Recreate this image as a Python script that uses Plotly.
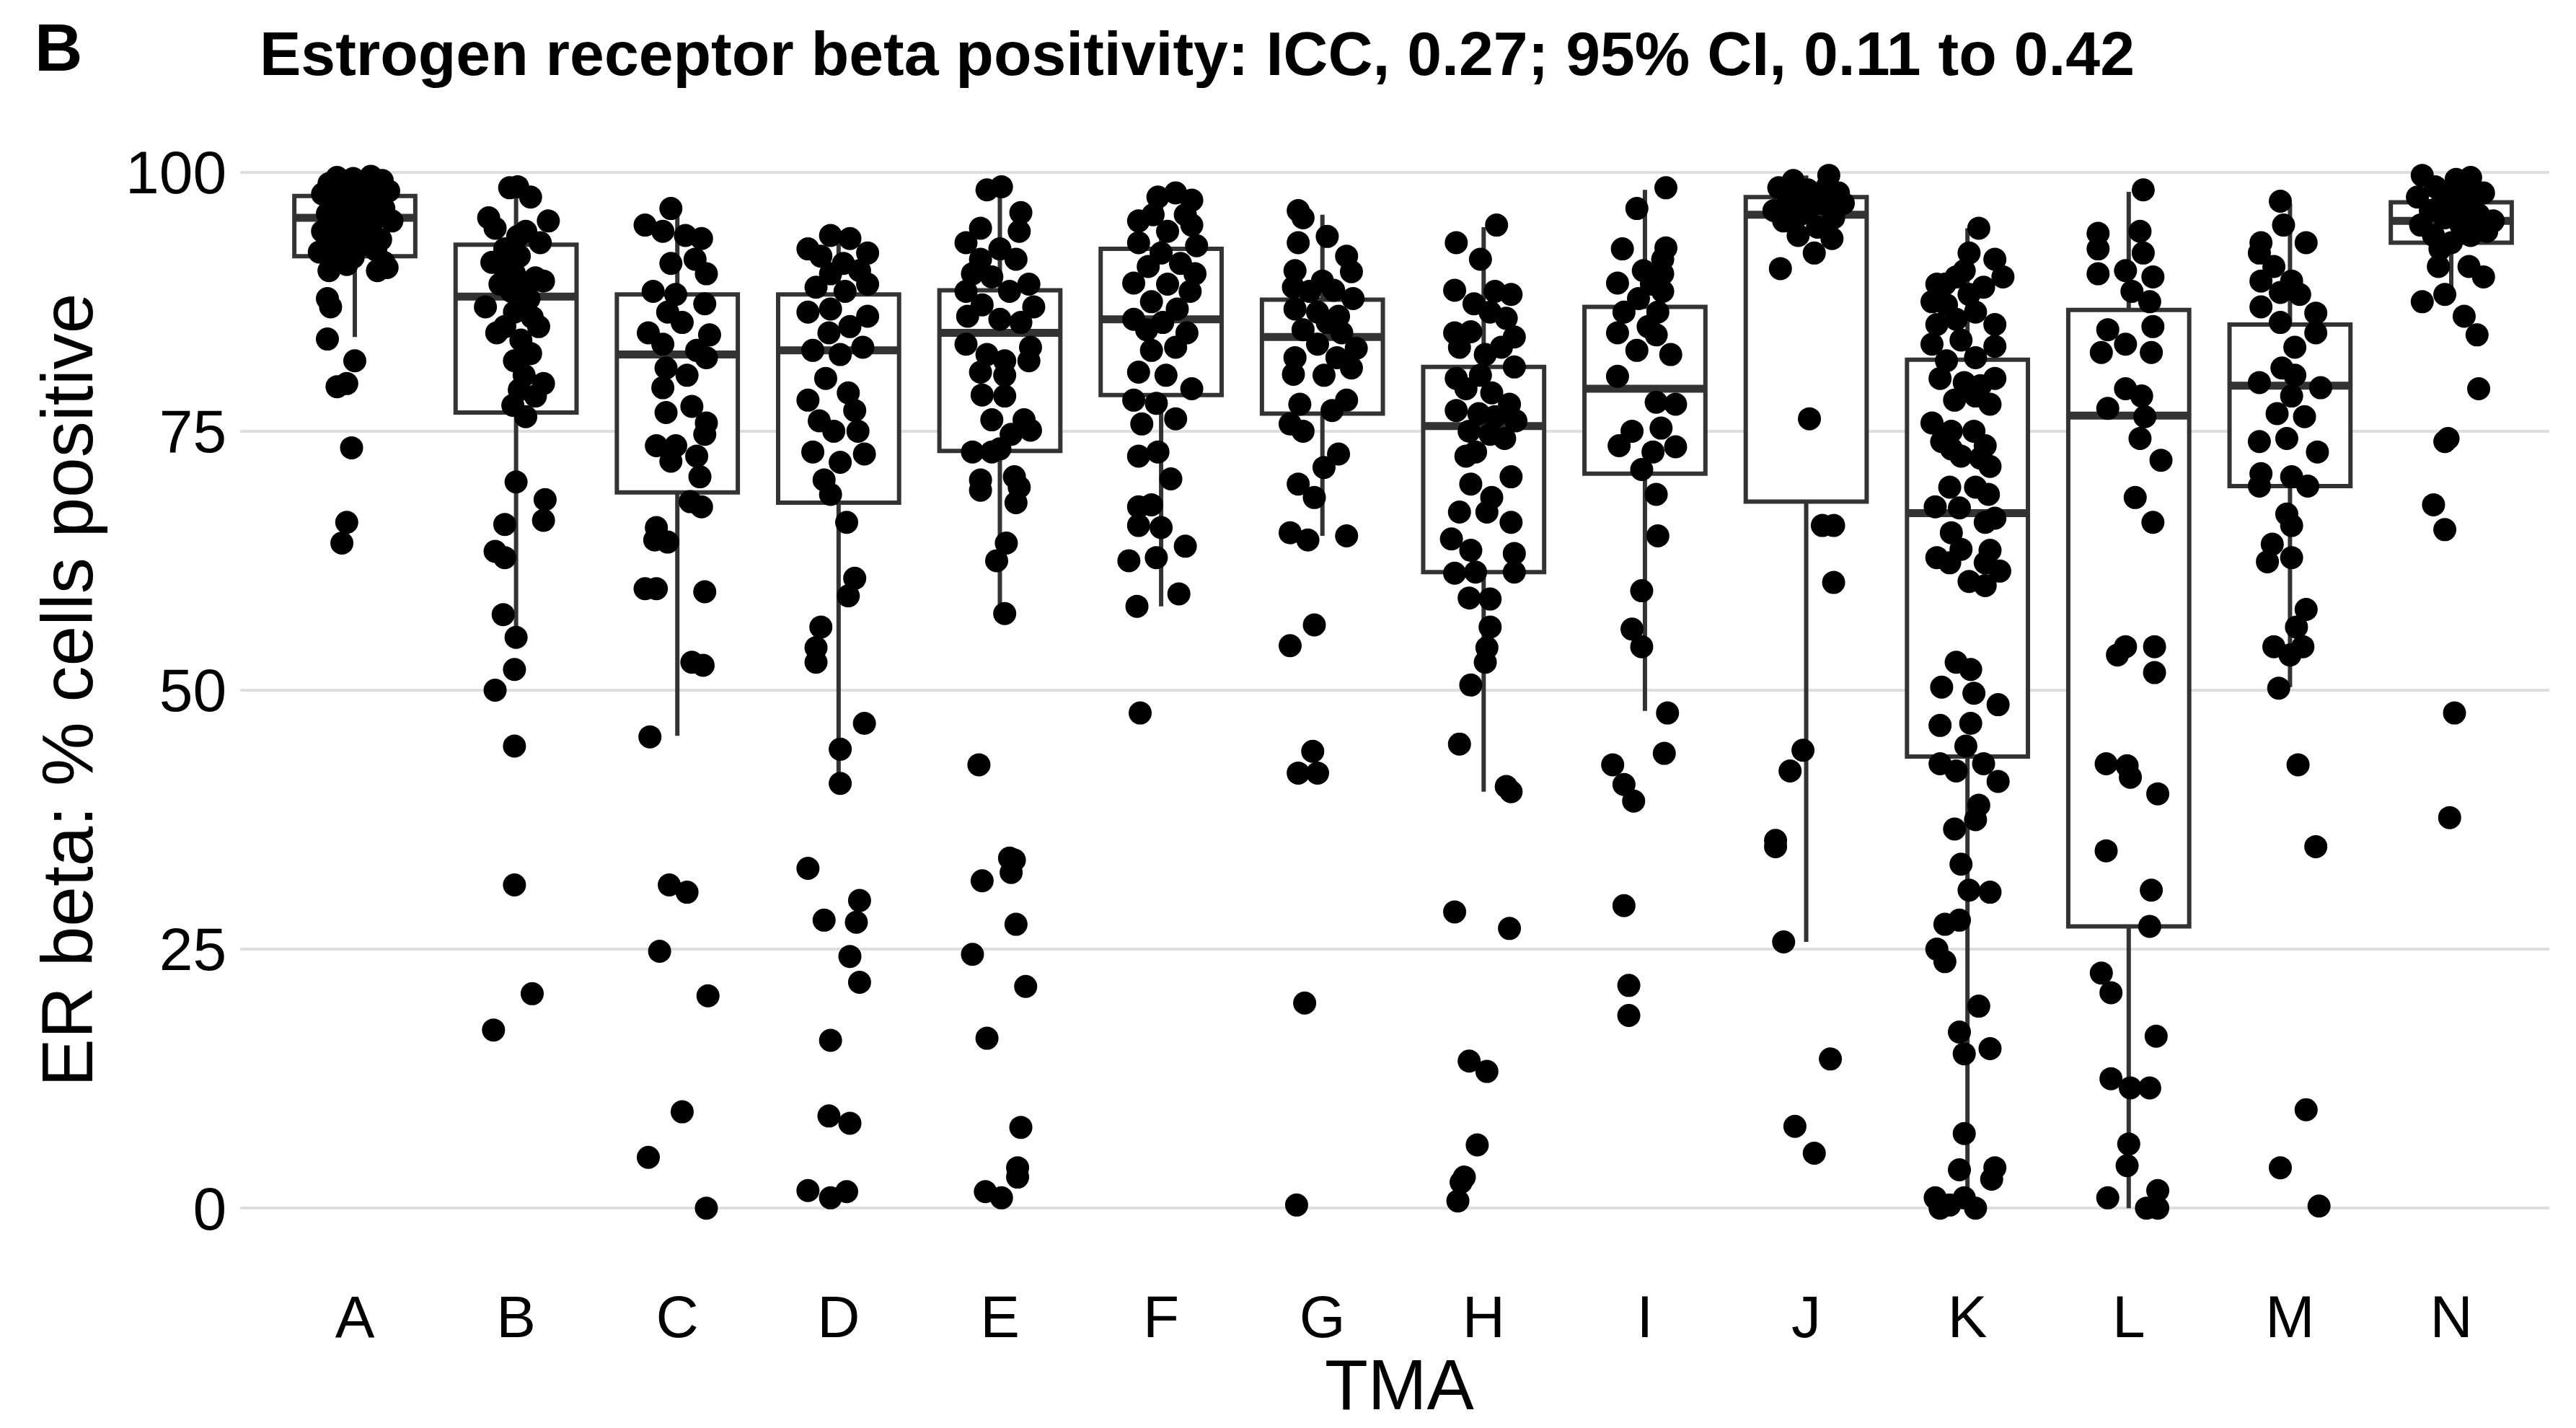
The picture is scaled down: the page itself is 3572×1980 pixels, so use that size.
import plotly.graph_objects as go

# ---------------- data ----------------
groups = ["A", "B", "C", "D", "E", "F", "G", "H", "I", "J", "K", "L", "M", "N"]

# box statistics per TMA
q1 = [91.9, 76.8, 69.1, 68.1, 73.1, 78.5, 76.7, 61.4, 70.9, 68.2, 43.6, 27.2, 69.7, 93.2]
med = [95.6, 88.0, 82.4, 82.8, 84.5, 85.8, 84.1, 75.5, 79.1, 95.9, 67.1, 76.5, 79.4, 95.3]
q3 = [97.7, 93.0, 88.2, 88.2, 88.6, 92.6, 87.7, 81.2, 87.0, 97.6, 81.9, 86.7, 85.3, 97.1]
lofence = [84.1, 56.1, 45.6, 41.9, 58.1, 58.1, 64.9, 40.2, 48.0, 25.7, 0.0, 0.0, 50.3, 88.9]
hifence = [99.6, 98.6, 96.3, 93.6, 98.3, 97.8, 95.9, 94.7, 98.3, 99.7, 94.6, 98.1, 97.0, 99.7]

# observed values (value, jitter offset) per TMA
A_pts = [(99.5, -0.11), (99.4, -0.01), (99.6, 0.10), (99.2, 0.17), (98.9, -0.16), (98.8, -0.05),
         (98.5, 0.05), (98.2, 0.21), (97.9, -0.20), (97.8, -0.08), (97.5, 0.02), (97.3, 0.13),
         (97.0, -0.13), (96.8, -0.04), (96.5, 0.18), (96.3, 0.07), (96.0, -0.17), (95.8, -0.07),
         (95.5, 0.01), (95.3, 0.23), (95.0, -0.11), (94.8, 0.10), (94.5, -0.02), (94.3, -0.20),
         (94.0, 0.04), (93.8, -0.10), (93.5, 0.16), (93.3, -0.05), (93.0, -0.16), (92.8, 0.02),
         (92.5, 0.13), (92.3, -0.22), (92.0, -0.08), (91.8, -0.01), (91.5, -0.13), (91.1, -0.05),
         (90.5, -0.16), (90.5, 0.14), (90.8, 0.20), (91.3, 0.18), (87.8, -0.17), (87.0, -0.15),
         (83.9, -0.17), (81.8, 0.00), (79.6, -0.05), (79.3, -0.11), (73.4, -0.02), (66.2, -0.05),
         (64.2, -0.08)]
B_pts = [(98.6, 0.01), (98.5, -0.04), (97.6, 0.09), (95.6, -0.17), (95.3, 0.20), (94.6, -0.13),
         (94.3, 0.06), (93.2, 0.15), (92.6, -0.07), (91.9, 0.02), (90.9, -0.08), (90.2, -0.01),
         (89.5, 0.17), (89.2, -0.10), (88.5, -0.03), (87.8, 0.08), (87.0, -0.19), (86.5, -0.01),
         (85.1, -0.07), (85.1, 0.14), (83.8, 0.03), (81.8, -0.01), (80.4, 0.05), (79.6, 0.17),
         (78.4, 0.12), (76.4, 0.06), (70.1, 0.00), (68.4, 0.18), (66.4, 0.17), (66.0, -0.07),
         (63.4, -0.13), (62.8, -0.07), (57.3, -0.08), (55.1, 0.00), (52.0, -0.01), (50.0, -0.13),
         (44.6, -0.01), (31.2, -0.01), (20.7, 0.10), (17.2, -0.14), (84.5, -0.12), (86.0, 0.10),
         (88.7, 0.04), (91.3, -0.15), (93.8, 0.01), (89.8, 0.12), (92.2, -0.04), (82.5, 0.09),
         (77.5, -0.02), (79.0, 0.02)]
C_pts = [(96.5, -0.04), (94.9, -0.20), (94.3, -0.09), (93.6, 0.15), (93.9, 0.05), (91.2, -0.04),
         (90.2, 0.18), (91.6, 0.11), (88.5, -0.15), (88.2, -0.01), (87.3, 0.17), (86.5, -0.06),
         (85.5, 0.03), (84.5, -0.18), (84.3, 0.20), (83.4, -0.09), (82.8, 0.12), (82.1, 0.18),
         (81.1, -0.07), (80.4, 0.06), (79.2, -0.09), (77.4, 0.09), (76.8, -0.07), (75.8, 0.18),
         (74.7, 0.17), (73.6, -0.13), (73.6, -0.01), (72.1, -0.04), (72.6, 0.12), (70.6, 0.14),
         (68.2, 0.08), (67.7, 0.15), (65.7, -0.13), (64.5, -0.14), (64.3, -0.06), (59.8, -0.20),
         (59.8, -0.13), (59.5, 0.17), (52.7, 0.09), (52.4, 0.16), (45.5, -0.17), (31.2, -0.05),
         (30.5, 0.06), (24.8, -0.11), (20.5, 0.19), (9.3, 0.03), (4.9, -0.18), (0.0, 0.18)]
D_pts = [(93.9, -0.05), (93.6, 0.07), (92.6, -0.19), (92.2, 0.18), (91.9, -0.11), (91.2, 0.03),
         (90.5, 0.13), (90.2, -0.05), (89.2, 0.18), (88.9, -0.14), (88.5, 0.04), (86.5, -0.19),
         (86.8, -0.05), (86.1, 0.18), (85.1, 0.07), (84.5, -0.06), (83.1, 0.15), (82.8, -0.16),
         (82.4, 0.01), (80.1, -0.08), (78.7, 0.06), (78.0, -0.19), (77.0, 0.10), (76.0, -0.12),
         (75.0, -0.03), (75.0, 0.12), (73.0, -0.16), (72.8, 0.16), (72.0, 0.01), (70.3, -0.09),
         (68.9, -0.05), (66.2, 0.05), (60.8, 0.10), (59.1, 0.06), (56.1, -0.11), (54.1, -0.14),
         (52.7, -0.14), (46.8, 0.16), (44.3, 0.01), (41.0, 0.01), (32.8, -0.19), (29.7, 0.13),
         (27.8, -0.09), (27.6, 0.11), (24.3, 0.07), (21.8, 0.13), (16.2, -0.05), (8.9, -0.06),
         (8.2, 0.07), (1.7, -0.19), (1.0, -0.05), (1.6, 0.05)]
E_pts = [(98.3, -0.08), (98.6, 0.01), (96.1, 0.13), (94.3, 0.12), (94.6, -0.12), (93.2, -0.21),
         (92.6, 0.00), (91.6, -0.12), (91.6, 0.10), (90.2, -0.17), (89.9, -0.05), (89.2, 0.18),
         (88.5, -0.21), (88.5, 0.06), (87.2, -0.11), (87.0, 0.21), (86.1, -0.20), (85.8, 0.00),
         (85.5, 0.13), (83.4, -0.21), (83.1, 0.19), (82.4, -0.08), (81.8, 0.03), (81.8, 0.18),
         (80.7, -0.12), (80.4, 0.03), (78.5, -0.11), (78.4, 0.03), (76.1, -0.05), (76.1, 0.15),
         (75.1, 0.19), (74.7, 0.07), (73.3, 0.00), (73.0, -0.17), (73.0, -0.05), (70.3, -0.12),
         (69.3, -0.12), (70.6, 0.09), (69.6, 0.12), (68.1, 0.10), (64.2, 0.04), (62.5, -0.02),
         (57.4, 0.03), (42.8, -0.13), (33.8, 0.06), (33.6, 0.09), (32.4, 0.07), (31.6, -0.11),
         (27.4, 0.10), (24.5, -0.17), (21.4, 0.16), (16.4, -0.08), (7.8, 0.13), (3.9, 0.11),
         (3.0, 0.11), (1.6, -0.09), (1.0, 0.01)]
F_pts = [(97.6, -0.02), (98.0, 0.09), (97.3, 0.19), (95.9, 0.15), (95.9, -0.05), (95.3, -0.14),
         (94.9, 0.19), (94.3, 0.04), (93.2, -0.14), (92.9, 0.22), (92.2, 0.00), (91.2, 0.12),
         (90.9, -0.08), (90.2, 0.21), (89.3, -0.17), (89.2, 0.04), (88.5, 0.18), (87.5, -0.06),
         (86.8, 0.10), (85.8, -0.17), (85.5, 0.01), (84.8, -0.09), (84.5, 0.16), (83.1, 0.09),
         (82.8, -0.06), (80.7, -0.14), (80.4, 0.03), (79.1, 0.19), (78.0, -0.17), (77.7, -0.03),
         (76.2, 0.09), (75.7, -0.12), (72.6, -0.14), (73.0, -0.02), (70.4, 0.06), (67.7, -0.14),
         (67.9, -0.06), (65.9, -0.14), (65.7, 0.00), (63.9, 0.15), (62.5, -0.20), (62.8, -0.03),
         (59.3, 0.11), (58.1, -0.15), (47.8, -0.13)]
G_pts = [(96.3, -0.15), (95.6, -0.12), (93.2, -0.15), (93.8, 0.03), (91.9, 0.15), (90.5, -0.17),
         (90.4, 0.18), (89.5, 0.00), (88.9, -0.18), (88.5, -0.08), (88.6, 0.07), (87.8, 0.19),
         (86.8, -0.17), (86.5, -0.03), (86.1, 0.10), (85.5, 0.03), (84.8, -0.12), (84.5, 0.12),
         (83.4, -0.03), (83.0, 0.21), (82.1, -0.17), (82.1, 0.09), (81.1, 0.18), (80.5, -0.18),
         (80.4, 0.01), (78.0, 0.15), (77.6, -0.14), (77.0, 0.06), (75.7, -0.20), (75.0, -0.12),
         (71.5, 0.01), (72.8, 0.10), (69.9, -0.15), (68.6, -0.05), (65.2, -0.20), (64.5, -0.09),
         (64.9, 0.15), (56.3, -0.05), (54.3, -0.20), (44.1, -0.06), (42.0, -0.15), (42.0, -0.03),
         (19.8, -0.11), (0.3, -0.16)]
H_pts = [(94.9, 0.08), (93.2, -0.17), (91.6, -0.02), (88.6, -0.18), (88.5, 0.07), (88.2, 0.17),
         (87.3, -0.06), (86.5, 0.04), (85.9, 0.14), (84.5, -0.18), (84.6, -0.08), (84.1, 0.19),
         (83.1, -0.15), (82.4, 0.01), (83.1, 0.11), (81.2, 0.19), (80.1, -0.17), (80.4, -0.02),
         (79.1, -0.11), (78.7, 0.05), (77.0, -0.17), (77.6, 0.16), (76.7, -0.03), (76.4, 0.07),
         (76.0, 0.20), (75.0, -0.09), (74.7, 0.04), (74.3, 0.13), (72.6, -0.11), (73.0, -0.05),
         (70.6, 0.17), (69.9, -0.08), (68.6, 0.05), (67.2, -0.15), (66.2, 0.17), (67.2, 0.02),
         (64.6, -0.20), (63.5, -0.08), (63.2, 0.19), (61.3, -0.18), (61.4, -0.05), (61.4, 0.19),
         (58.9, -0.09), (58.8, 0.04), (56.1, 0.04), (54.1, 0.02), (52.7, 0.01), (50.5, -0.08),
         (44.8, -0.15), (40.7, 0.14), (40.2, 0.17), (28.6, -0.18), (27.0, 0.16), (14.2, -0.09),
         (13.2, 0.02), (6.1, -0.04), (3.0, -0.12), (2.5, -0.14), (0.7, -0.16)]
I_pts = [(98.5, 0.13), (96.5, -0.05), (92.6, -0.14), (92.7, 0.13), (91.6, 0.11), (90.5, -0.01),
         (90.2, 0.11), (89.3, -0.17), (89.2, 0.04), (88.5, 0.11), (87.8, -0.04), (86.5, -0.13),
         (86.5, 0.08), (85.1, 0.02), (84.5, -0.17), (84.3, 0.07), (82.8, -0.05), (82.4, 0.16),
         (80.3, -0.17), (77.8, 0.07), (77.6, 0.19), (75.0, -0.08), (75.3, 0.10), (73.6, -0.16),
         (73.0, 0.05), (73.5, 0.19), (71.3, -0.02), (68.9, 0.07), (64.9, 0.08), (59.6, -0.02),
         (55.9, -0.08), (54.2, -0.02), (47.8, 0.14), (43.9, 0.12), (42.8, -0.20), (40.9, -0.13),
         (39.3, -0.07), (29.2, -0.13), (21.5, -0.10), (18.6, -0.10)]
J_pts = [(99.7, 0.14), (99.2, -0.08), (98.5, -0.17), (98.3, 0.01), (98.0, 0.20), (97.3, -0.11),
         (97.0, 0.10), (96.3, -0.20), (95.9, -0.04), (95.6, 0.17), (95.3, -0.14), (94.7, 0.07),
         (93.9, -0.05), (93.6, 0.16), (92.2, 0.05), (90.7, -0.16), (97.0, 0.23), (96.6, 0.02),
         (98.6, 0.13), (98.0, -0.07), (76.2, 0.02), (65.9, 0.10), (65.9, 0.17), (60.4, 0.17),
         (44.2, -0.02), (42.2, -0.10), (35.5, -0.19), (34.9, -0.19), (25.7, -0.14), (14.4, 0.15),
         (7.9, -0.07), (5.3, 0.05)]
K_pts = [(94.6, 0.07), (92.2, 0.01), (91.6, 0.17), (89.9, 0.22), (89.2, -0.19), (89.9, -0.07),
         (88.9, 0.10), (87.5, -0.22), (88.2, 0.01), (85.3, 0.17), (85.3, -0.19), (85.8, -0.07),
         (86.5, 0.05), (83.4, -0.22), (83.8, -0.04), (83.2, 0.17), (81.8, -0.13), (82.1, 0.05),
         (80.1, -0.17), (80.1, 0.17), (79.7, -0.02), (78.0, -0.08), (77.6, 0.14), (78.4, 0.05),
         (75.8, -0.22), (75.0, -0.10), (75.0, 0.04), (74.0, -0.16), (73.6, 0.11), (72.6, -0.04),
         (72.4, 0.08), (71.6, 0.14), (69.6, -0.11), (69.6, 0.05), (68.9, 0.13), (67.7, -0.20),
         (66.6, 0.17), (65.2, -0.10), (63.6, -0.04), (62.8, -0.19), (62.3, -0.11), (63.5, 0.14),
         (61.5, 0.20), (60.5, 0.01), (60.1, 0.11), (52.7, -0.07), (52.0, 0.02), (50.3, -0.16),
         (49.7, 0.04), (48.6, 0.19), (46.6, -0.17), (46.8, 0.02), (44.6, -0.01), (42.9, -0.17),
         (42.2, -0.07), (42.9, 0.10), (41.2, 0.19), (38.9, 0.07), (37.5, 0.05), (36.6, -0.08),
         (33.2, -0.04), (30.7, 0.01), (30.5, 0.14), (27.4, -0.14), (27.8, -0.05), (25.0, -0.19),
         (23.8, -0.14), (19.5, 0.07), (17.0, -0.05), (14.9, -0.02), (15.4, 0.14), (7.2, -0.02),
         (3.7, -0.05), (3.9, 0.17), (2.8, 0.15), (1.0, -0.20), (0.3, -0.11), (1.0, -0.02),
         (0.0, 0.05), (0.0, -0.17), (89.2, -0.14), (90.5, -0.02), (79.4, 0.08), (67.6, -0.05),
         (87.2, -0.13), (66.2, 0.11), (73.3, -0.10), (62.3, 0.11)]
L_pts = [(98.3, 0.09), (94.1, -0.19), (94.3, 0.07), (92.6, -0.19), (92.2, 0.09), (90.2, -0.19),
         (90.5, -0.02), (89.9, 0.15), (88.5, 0.02), (87.5, 0.13), (85.1, 0.15), (84.8, -0.13),
         (83.4, -0.02), (82.6, 0.14), (82.6, -0.17), (79.1, -0.02), (78.4, 0.08), (77.2, -0.13),
         (76.4, 0.10), (74.3, 0.07), (72.2, 0.20), (68.6, 0.04), (66.2, 0.15), (54.2, -0.02),
         (53.4, -0.07), (54.2, 0.16), (51.7, 0.16), (42.9, -0.14), (42.7, -0.01), (41.6, 0.01),
         (40.0, 0.18), (34.5, -0.14), (30.7, 0.14), (27.2, 0.13), (22.7, -0.17), (20.8, -0.11),
         (16.6, 0.17), (12.5, -0.11), (11.6, 0.01), (11.6, 0.13), (6.2, 0.00), (4.1, -0.01),
         (1.0, -0.13), (1.7, 0.18), (0.0, 0.11), (0.0, 0.18)]
M_pts = [(97.2, -0.06), (94.9, -0.04), (93.2, -0.18), (93.2, 0.10), (92.2, -0.19), (90.9, -0.10),
         (89.5, -0.18), (89.5, 0.01), (88.4, -0.06), (88.2, 0.06), (87.0, -0.18), (86.4, 0.16),
         (85.5, -0.06), (84.5, 0.16), (83.1, 0.03), (81.1, -0.05), (79.7, -0.19), (80.4, 0.03),
         (79.2, 0.19), (78.4, 0.01), (76.7, -0.08), (76.4, 0.09), (74.0, -0.19), (74.3, -0.02),
         (73.0, 0.17), (70.9, -0.18), (70.6, 0.01), (69.7, 0.11), (69.7, -0.19), (67.0, -0.02),
         (65.9, 0.01), (64.1, -0.11), (62.4, -0.14), (62.8, 0.01), (57.8, 0.10), (56.1, 0.04),
         (54.2, -0.10), (54.2, 0.08), (53.4, 0.00), (50.2, -0.07), (42.8, 0.05), (34.9, 0.16),
         (9.5, 0.10), (3.9, -0.06), (0.2, 0.18)]
N_pts = [(99.7, -0.18), (99.3, 0.03), (99.5, 0.12), (98.6, -0.10), (98.0, 0.20), (97.6, -0.21),
         (97.3, -0.02), (97.0, 0.09), (96.3, -0.13), (95.9, 0.17), (95.6, -0.04), (94.9, -0.19),
         (94.9, 0.06), (94.3, 0.22), (93.9, -0.11), (93.2, 0.00), (93.9, 0.12), (92.6, -0.07),
         (98.6, 0.03), (98.0, 0.14), (96.6, -0.08), (96.3, 0.04), (95.3, 0.26), (90.9, -0.08),
         (90.9, 0.11), (89.9, 0.20), (87.5, -0.18), (88.2, -0.04), (86.1, 0.08), (84.3, 0.16),
         (79.1, 0.17), (74.3, -0.02), (74.0, -0.04), (67.9, -0.11), (65.5, -0.04), (47.8, 0.02),
         (37.7, -0.01)]

all_points = [A_pts, B_pts, C_pts, D_pts, E_pts, F_pts, G_pts, H_pts, I_pts, J_pts,
              K_pts, L_pts, M_pts, N_pts]

yticks = [0, 25, 50, 75, 100]

# ---------------- figure ----------------
W, H = 3572, 1980
ML, MR, MT, MB = 333, 37, 167, 233
BOXW = 0.75
LINE = "#333333"

pos = list(range(len(groups)))

fig = go.Figure()

fig.add_trace(go.Box(
    x=pos, q1=q1, median=med, q3=q3, lowerfence=lofence, upperfence=hifence,
    width=BOXW, boxpoints=False, whiskerwidth=0,
    fillcolor="white", line=dict(color=LINE, width=6),
    showlegend=False, hoverinfo="skip",
))

# thicker median bars (ggplot style)
mx, my = [], []
for i, m in enumerate(med):
    mx += [i - BOXW / 2, i + BOXW / 2, None]
    my += [m, m, None]
fig.add_trace(go.Scatter(x=mx, y=my, mode="lines", line=dict(color=LINE, width=11),
                         showlegend=False, hoverinfo="skip"))

px, py = [], []
for i, pts in enumerate(all_points):
    for v, j in pts:
        px.append(i + j)
        py.append(v)
fig.add_trace(go.Scatter(x=px, y=py, mode="markers",
                         marker=dict(color="black", size=32, line=dict(width=0)),
                         showlegend=False, hoverinfo="skip"))

FONT = "Liberation Sans, Arial, Helvetica, sans-serif"
fig.update_layout(
    width=W, height=H,
    margin=dict(l=ML, r=MR, t=MT, b=MB),
    paper_bgcolor="white", plot_bgcolor="white",
    font=dict(family=FONT, color="black"),
    title=dict(
        text="<b>Estrogen receptor beta positivity: ICC, 0.27; 95% CI, 0.11 to 0.42</b>",
        x=360 / W, xref="container", xanchor="left",
        y=1 - 74 / H, yref="container", yanchor="middle",
        font=dict(size=86, family=FONT, color="black"),
    ),
    xaxis=dict(
        range=[-0.711, 13.608], tickmode="array", tickvals=pos, ticktext=groups,
        showgrid=False, zeroline=False, showline=False,
        ticks="outside", ticklen=8, tickcolor="rgba(0,0,0,0)",
        tickfont=dict(size=82, color="black"),
    ),
    yaxis=dict(
        range=[-5, 105], tickmode="array", tickvals=yticks,
        ticktext=[str(t) for t in yticks],
        showgrid=True, gridcolor="#DEDEDE", gridwidth=4,
        zeroline=False, showline=False,
        ticks="outside", ticklen=1, tickcolor="rgba(0,0,0,0)",
        tickfont=dict(size=84, color="black"),
    ),
    annotations=[
        dict(text="<b>B</b>", xref="paper", yref="paper",
             x=(46 - ML) / (W - ML - MR), y=(H - MB - 66) / (H - MT - MB),
             xanchor="left", yanchor="middle", showarrow=False,
             font=dict(size=92, family=FONT, color="black")),
        dict(text="TMA", xref="paper", yref="paper",
             x=(1940 - ML) / (W - ML - MR), y=(H - MB - 1920) / (H - MT - MB),
             xanchor="center", yanchor="middle", showarrow=False,
             font=dict(size=98, family=FONT, color="black")),
        dict(text="ER beta: % cells positive", xref="paper", yref="paper",
             x=(93 - ML) / (W - ML - MR), y=0.5, textangle=-90,
             xanchor="center", yanchor="middle", showarrow=False,
             font=dict(size=100, family=FONT, color="black")),
    ],
)

fig.write_html("out.html", config={"displayModeBar": False})
